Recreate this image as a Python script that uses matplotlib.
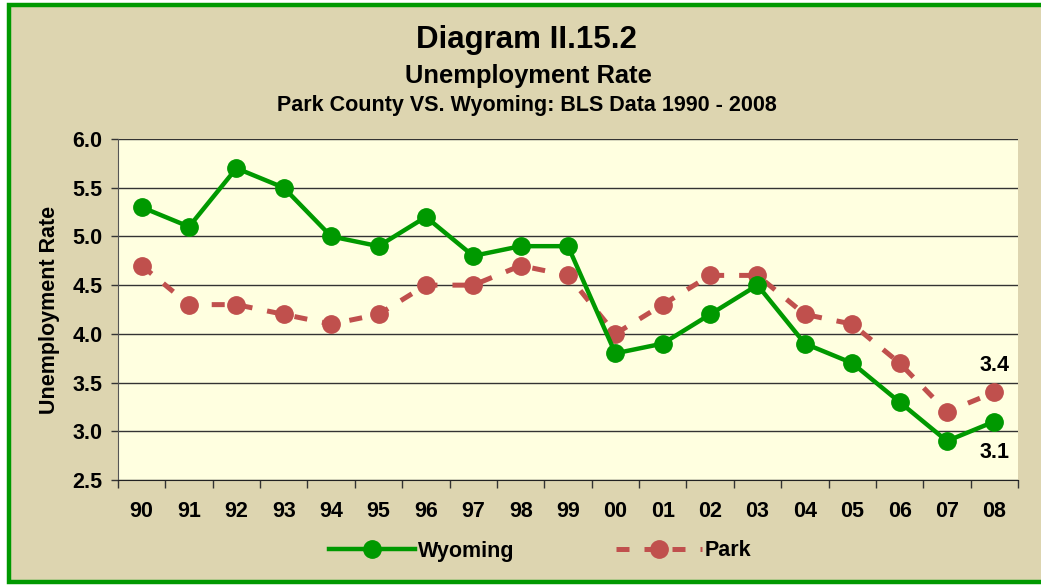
import matplotlib
matplotlib.use("Agg")
import matplotlib.pyplot as plt
from matplotlib.patches import Rectangle
from matplotlib.lines import Line2D

years = ["90", "91", "92", "93", "94", "95", "96", "97", "98", "99",
         "00", "01", "02", "03", "04", "05", "06", "07", "08"]
wyoming = [5.3, 5.1, 5.7, 5.5, 5.0, 4.9, 5.2, 4.8, 4.9, 4.9,
           3.8, 3.9, 4.2, 4.5, 3.9, 3.7, 3.3, 2.9, 3.1]
park = [4.7, 4.3, 4.3, 4.2, 4.1, 4.2, 4.5, 4.5, 4.7, 4.6,
        4.0, 4.3, 4.6, 4.6, 4.2, 4.1, 3.7, 3.2, 3.4]
yticks = [2.5, 3.0, 3.5, 4.0, 4.5, 5.0, 5.5, 6.0]

plt.rcParams['font.family'] = ['Liberation Sans', 'DejaVu Sans']
plt.rcParams['font.weight'] = 'bold'

GREEN = '#009900'
RED = '#C0504D'
BG = '#DDD5B0'
PLOT_BG = '#FFFFE0'
FS = 15.5

W, H = 1041, 586
fig = plt.figure(figsize=(W / 100, H / 100), dpi=100, facecolor='white')

# outer border
fig.patches.append(Rectangle((9 / W, 1 - 582 / H), 1.2, (582 - 5) / H,
                             transform=fig.transFigure, facecolor=BG,
                             edgecolor=GREEN, linewidth=3.2, zorder=-10))

ax = fig.add_axes([118 / W, 1 - 480 / H, (1018 - 118) / W, (480 - 139) / H])
ax.set_facecolor(PLOT_BG)

x = list(range(len(years)))
ax.plot(x, wyoming, color=GREEN, lw=3.2, marker='o', ms=12.5,
        solid_capstyle='round', zorder=4)
ax.plot(x, park, color=RED, lw=3.6, marker='o', ms=12.5,
        linestyle=(0, (2.6, 3.0)), dash_capstyle='butt', zorder=3)

ax.set_xlim(-0.5, len(years) - 0.5)
ax.set_ylim(2.5, 6.0)
ax.set_yticks(yticks)
ax.set_yticklabels([f"{v:.1f}" for v in yticks], fontsize=FS, fontweight='bold')
ax.set_xticks(x)
ax.set_xticklabels(years, fontsize=FS, fontweight='bold')
ax.set_xticks([i - 0.5 for i in range(len(years) + 1)], minor=True)
ax.tick_params(axis='x', which='major', length=0, pad=15)
ax.tick_params(axis='x', which='minor', length=6, width=1, color='#333333', direction='out')
ax.tick_params(axis='y', length=5, width=1, color='#333333', direction='out', pad=6)
ax.grid(axis='y', color='#333333', lw=1.0, zorder=1)
ax.set_axisbelow(True)
for s in ['top', 'right']:
    ax.spines[s].set_visible(False)
ax.spines['left'].set_color('#555555')
ax.spines['bottom'].set_color('#222222')

ax.set_ylabel("Unemployment Rate", fontsize=FS, fontweight='bold', labelpad=9)

ax.annotate("3.4", (18, 3.4), xytext=(0, 19.5), textcoords='offset points',
            ha='center', va='center', fontsize=FS, fontweight='bold')
ax.annotate("3.1", (18, 3.1), xytext=(0, -22.5), textcoords='offset points',
            ha='center', va='center', fontsize=FS, fontweight='bold')

fig.text(526.5 / W, 1 - 40 / H, "Diagram II.15.2", ha='center', va='center',
         fontsize=22.5, fontweight='bold')
fig.text(528 / W, 1 - 76 / H, "Unemployment Rate", ha='center', va='center',
         fontsize=18.4, fontweight='bold')
fig.text(527 / W, 1 - 106 / H, "Park County VS. Wyoming: BLS Data 1990 - 2008",
         ha='center', va='center', fontsize=15.5, fontweight='bold')

handles = [Line2D([], [], color=GREEN, lw=3.2, marker='o', ms=12.5),
           Line2D([], [], color=RED, lw=3.6, marker='o', ms=12.5,
                  linestyle=(0, (2.6, 3.0)))]
fig.legend(handles, ["Wyoming", "Park"], loc='center',
           bbox_to_anchor=(540 / W, 1 - 551 / H), ncol=2, frameon=False,
           fontsize=FS, handlelength=4.0, columnspacing=4.7, handletextpad=0.15)

fig.savefig("out.png", dpi=100, facecolor=fig.get_facecolor())
